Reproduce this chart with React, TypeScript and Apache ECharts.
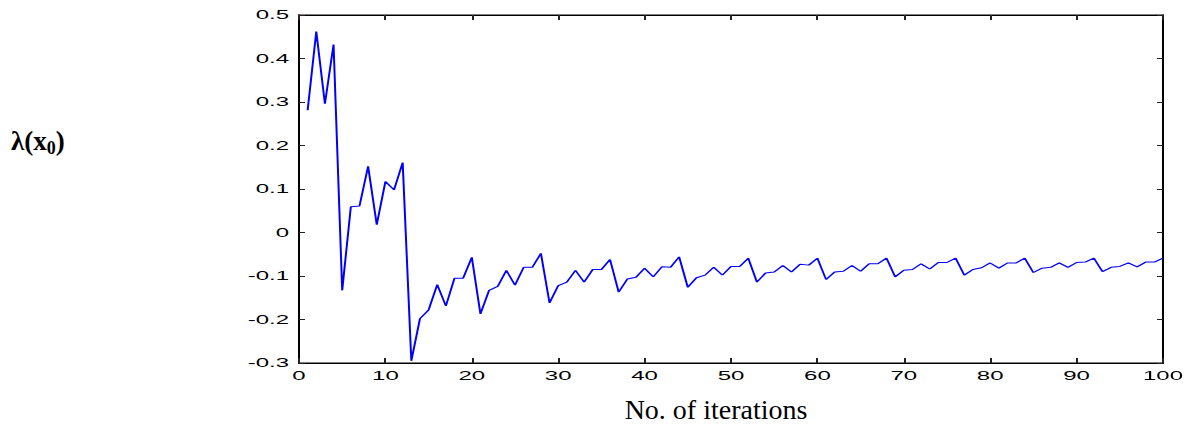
import React, { useEffect, useRef } from "react";
import * as echarts from "echarts";

// iteration number 1..100
const iterations: number[] = Array.from({ length: 100 }, (_, i) => i + 1);
const lambdaValues: number[] = [
  0.281, 0.462, 0.296, 0.432, -0.133, 0.059, 0.061, 0.152, 0.018, 0.117,
  0.098, 0.161, -0.295, -0.198, -0.178, -0.12, -0.169, -0.105, -0.105, -0.057,
  -0.187, -0.133, -0.124, -0.087, -0.121, -0.08, -0.08, -0.048, -0.162, -0.122,
  -0.114, -0.087, -0.114, -0.085, -0.085, -0.062, -0.137, -0.107, -0.103, -0.082,
  -0.102, -0.079, -0.08, -0.056, -0.126, -0.104, -0.098, -0.08, -0.098, -0.078,
  -0.078, -0.059, -0.114, -0.093, -0.091, -0.076, -0.091, -0.073, -0.075, -0.059,
  -0.108, -0.091, -0.089, -0.076, -0.089, -0.072, -0.072, -0.059, -0.102, -0.087,
  -0.085, -0.072, -0.084, -0.069, -0.069, -0.059, -0.098, -0.085, -0.081, -0.07,
  -0.082, -0.07, -0.07, -0.059, -0.092, -0.082, -0.08, -0.07, -0.08, -0.069,
  -0.068, -0.059, -0.09, -0.08, -0.078, -0.07, -0.079, -0.068, -0.068, -0.059,
];
const xTicks = { min: 0, max: 100, interval: 10 };
const yTicks = { min: -0.3, max: 0.5, interval: 0.1 };
const xTitle = "No. of iterations";

const STRETCH = 2;
const W = 1189 / STRETCH;
const H = 426;

export default function App() {
  const ref = useRef<HTMLDivElement>(null);
  useEffect(() => {
    document.body.style.margin = "0";
    const chart = echarts.init(ref.current!, null, { renderer: "svg", width: W, height: H });
    const tickFont = { fontFamily: "Liberation Sans", fontSize: 12, color: "#000" };
    const fmtY = (v: number) => (Math.abs(v) < 1e-9 ? "0" : (Math.round(v * 10) / 10).toFixed(1));
    const line = { show: true, onZero: false, lineStyle: { color: "#000", width: 1 } };
    chart.setOption({
      animation: false,
      backgroundColor: "#fff",
      grid: {
        left: 149.5,
        right: 11,
        top: 15,
        bottom: 63,
        containLabel: false,
        show: true,
        borderColor: "#000",
        borderWidth: 1,
        backgroundColor: "transparent",
      },
      xAxis: [
        {
          type: "value",
          position: "bottom",
          min: xTicks.min,
          max: xTicks.max,
          interval: xTicks.interval,
          axisLine: line,
          axisTick: { show: true, inside: true, length: 5, lineStyle: { color: "#222" } },
          axisLabel: { ...tickFont, margin: 7, showMinLabel: true, showMaxLabel: true },
          splitLine: { show: false },
        },
        {
          type: "value",
          position: "top",
          min: xTicks.min,
          max: xTicks.max,
          interval: xTicks.interval,
          axisLine: line,
          axisTick: { show: true, inside: true, length: 5, lineStyle: { color: "#222" } },
          axisLabel: { show: false },
          splitLine: { show: false },
        },
      ],
      yAxis: [
        {
          type: "value",
          position: "left",
          min: yTicks.min,
          max: yTicks.max,
          interval: yTicks.interval,
          axisLine: line,
          axisTick: { show: true, inside: true, length: 3, lineStyle: { color: "#222" } },
          axisLabel: { ...tickFont, margin: 5, formatter: fmtY, showMinLabel: true, showMaxLabel: true },
          splitLine: { show: false },
        },
        {
          type: "value",
          position: "right",
          min: yTicks.min,
          max: yTicks.max,
          interval: yTicks.interval,
          axisLine: line,
          axisTick: { show: true, inside: true, length: 3, lineStyle: { color: "#222" } },
          axisLabel: { show: false },
          splitLine: { show: false },
        },
      ],
      series: [
        {
          type: "line",
          xAxisIndex: 0,
          yAxisIndex: 0,
          data: iterations.map((it, i) => [it, lambdaValues[i]]),
          showSymbol: false,
          symbol: "none",
          lineStyle: { color: "#0000ff", width: 1 },
          emphasis: { disabled: true },
          silent: true,
        },
        {
          type: "line",
          xAxisIndex: 1,
          yAxisIndex: 1,
          data: [],
          showSymbol: false,
          silent: true,
        },
      ],
      graphic: [
        {
          type: "text",
          x: 358,
          y: 409.5,
          scaleX: 1 / STRETCH,
          silent: true,
          style: {
            text: xTitle,
            fontFamily: "Liberation Serif",
            fontSize: 28,
            fill: "#000",
            textAlign: "center",
            textVerticalAlign: "middle",
          },
        },
        {
          type: "text",
          x: 5.5,
          y: 141,
          scaleX: 1 / STRETCH,
          silent: true,
          style: {
            text: "{a|λ(x}{b|0}{a|)}",
            fontFamily: "Liberation Serif",
            fontWeight: "bold",
            fill: "#000",
            textAlign: "left",
            textVerticalAlign: "middle",
            rich: {
              a: { fontFamily: "Liberation Serif", fontWeight: "bold", fontSize: 27, lineHeight: 32, fill: "#000" },
              b: {
                fontFamily: "Liberation Serif",
                fontWeight: "bold",
                fontSize: 18,
                lineHeight: 32,
                verticalAlign: "bottom",
                fill: "#000",
              },
            },
          },
        },
      ],
    });
    return () => chart.dispose();
  }, []);
  return (
    <div
      style={{
        position: "fixed",
        left: 0,
        top: 0,
        width: 1189,
        height: H,
        overflow: "hidden",
        background: "#fff",
      }}
    >
      <div
        ref={ref}
        style={{
          width: W,
          height: H,
          transform: `scaleX(${STRETCH})`,
          transformOrigin: "0 0",
        }}
      />
    </div>
  );
}
